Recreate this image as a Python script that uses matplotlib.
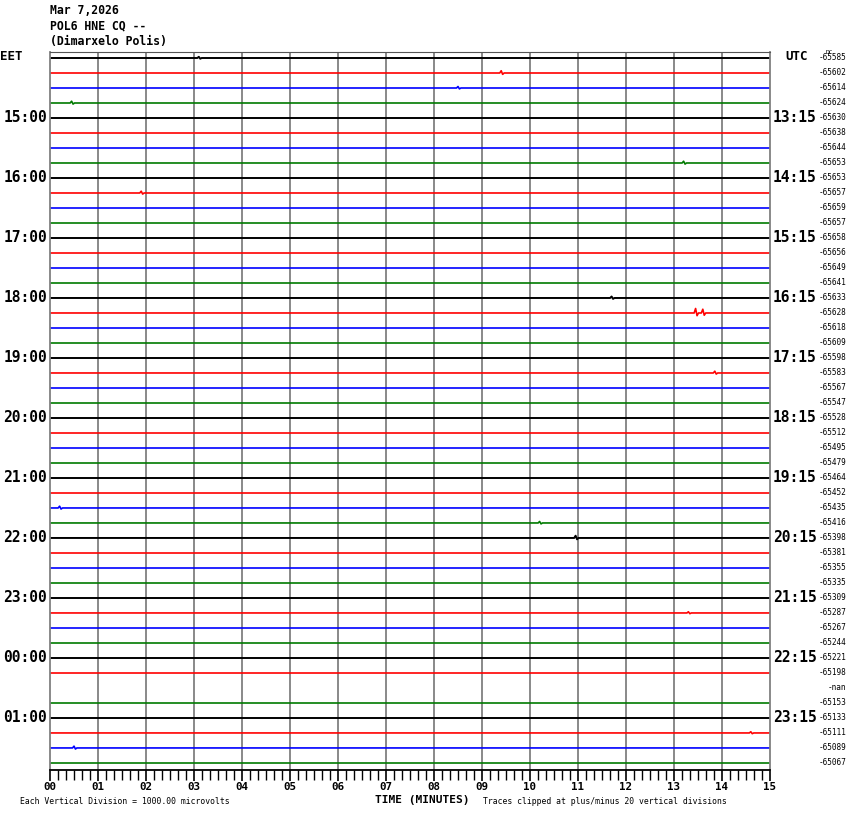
"""Helicorder-style 12 h record of station POL6 HNE, one 15-minute trace per row."""

import matplotlib
matplotlib.use("Agg")
import matplotlib.pyplot as plt
from matplotlib.transforms import blended_transform_factory
from matplotlib.ticker import MultipleLocator

W, H = 850, 814

HEADER = ["Mar 7,2026", "POL6 HNE CQ --", "(Dimarxelo Polis)"]
LOCAL_HOURS = ["15:00", "16:00", "17:00", "18:00", "19:00", "20:00",
               "21:00", "22:00", "23:00", "00:00", "01:00"]
UTC_HOURS = ["13:15", "14:15", "15:15", "16:15", "17:15", "18:15",
             "19:15", "20:15", "21:15", "22:15", "23:15"]
DC_OFFSETS = [
    "-65585", "-65602", "-65614", "-65624", "-65630", "-65638", "-65644", "-65653",
    "-65653", "-65657", "-65659", "-65657", "-65658", "-65656", "-65649", "-65641",
    "-65633", "-65628", "-65618", "-65609", "-65598", "-65583", "-65567", "-65547",
    "-65528", "-65512", "-65495", "-65479", "-65464", "-65452", "-65435", "-65416",
    "-65398", "-65381", "-65355", "-65335", "-65309", "-65287", "-65267", "-65244",
    "-65221", "-65198", "-nan", "-65153", "-65133", "-65111", "-65089", "-65067",
]
MISSING = [42]
# visible wiggles: (trace, minute, amplitude in trace spacings)
EVENTS = [
    (0, 3.1, 0.08), (1, 9.4, 0.15), (2, 8.5, 0.1), (3, 0.45, 0.12),
    (7, 13.2, 0.12), (9, 1.9, 0.12), (16, 11.7, 0.1), (17, 13.45, 0.3),
    (17, 13.6, 0.25), (21, 13.85, 0.12), (30, 0.2, 0.12), (31, 10.2, 0.1),
    (32, 10.95, 0.15), (37, 13.3, 0.08), (45, 14.6, 0.08), (46, 0.5, 0.12),
]
COLORS = ["black", "#ff0000", "#0000ff", "#007a00"]
MINUTES = 15


def trace_xy(i):
    xs, ys = [0.0], [0.0]
    for tr, m, a in sorted(e for e in EVENTS if e[0] == i):
        xs += [m - 0.03, m, m + 0.03, m + 0.06]
        ys += [0.0, a, -0.6 * a, 0.0]
    xs.append(MINUTES)
    ys.append(0.0)
    return xs, [i - v for v in ys]


def main():
    n = len(DC_OFFSETS)
    fig = plt.figure(figsize=(W / 100, H / 100), dpi=100)
    ax = fig.add_axes([50 / W, 1 - 770 / H, 720 / W, 718 / H])
    ax.set_xlim(0, MINUTES)
    ax.set_ylim(n - 1 + 0.47, -0.4)

    for m in range(1, MINUTES):
        ax.axvline(m, color="#808080", lw=1.3, zorder=1)

    for i in range(n):
        if i in MISSING:
            continue
        xs, ys = trace_xy(i)
        ax.plot(xs, ys, color=COLORS[i % 4], lw=1.4 if i % 4 == 0 else 1.2,
                solid_capstyle="butt", zorder=2)

    for side in ["left", "right"]:
        ax.spines[side].set_color("#808080")
        ax.spines[side].set_linewidth(1.3)
    ax.spines["top"].set_color("#555555")
    ax.spines["top"].set_linewidth(0.8)
    ax.spines["bottom"].set_linewidth(1.3)

    ax.set_yticks([])
    ax.set_xticks(range(MINUTES + 1))
    ax.set_xticklabels([f"{m:02d}" for m in range(MINUTES + 1)],
                       family="DejaVu Sans Mono", fontweight="bold", fontsize=7.8)
    ax.xaxis.set_minor_locator(MultipleLocator(1 / 6))
    ax.tick_params(axis="x", which="major", length=8, width=1.2, pad=1)
    ax.tick_params(axis="x", which="minor", length=7, width=1.0)

    mono = "DejaVu Sans Mono"
    for k, line in enumerate(HEADER):
        fig.text(50 / W, 1 - (11 + 15 * k) / H, line, family=mono, fontweight="bold",
                 fontsize=8.3, va="center", ha="left")

    tr = blended_transform_factory(fig.transFigure, ax.transData)
    fig.text(0 / W, 1 - 57 / H, "EET", family=mono, fontweight="bold",
             fontsize=9, va="center", ha="left")
    fig.text(785 / W, 1 - 57 / H, "UTC", family=mono, fontweight="bold",
             fontsize=9, va="center", ha="left")
    fig.text(826 / W, 1 - 52 / H, "DC", family=mono, fontsize=4.5,
             va="center", ha="left")
    for k in range(len(LOCAL_HOURS)):
        row = 4 * (k + 1)
        ax.text(47 / W, row, LOCAL_HOURS[k], transform=tr, family=mono,
                fontweight="bold", fontsize=10.5, va="center", ha="right")
        ax.text(773 / W, row, UTC_HOURS[k], transform=tr, family=mono,
                fontweight="bold", fontsize=10.5, va="center", ha="left")
    for i, dc in enumerate(DC_OFFSETS):
        ax.text(846 / W, i, dc, transform=tr, family=mono, fontsize=5.6,
                va="center", ha="right")

    fig.text(422 / W, 1 - 800 / H, "TIME (MINUTES)", family=mono, fontweight="bold",
             fontsize=8, va="center", ha="center")
    fig.text(20 / W, 1 - 801 / H, "Each Vertical Division = 1000.00 microvolts",
             family=mono, fontsize=5.9, va="center", ha="left")
    fig.text(483 / W, 1 - 801 / H, "Traces clipped at plus/minus 20 vertical divisions",
             family=mono, fontsize=5.9, va="center", ha="left")

    fig.savefig("out.png", dpi=100)


if __name__ == "__main__":
    main()
